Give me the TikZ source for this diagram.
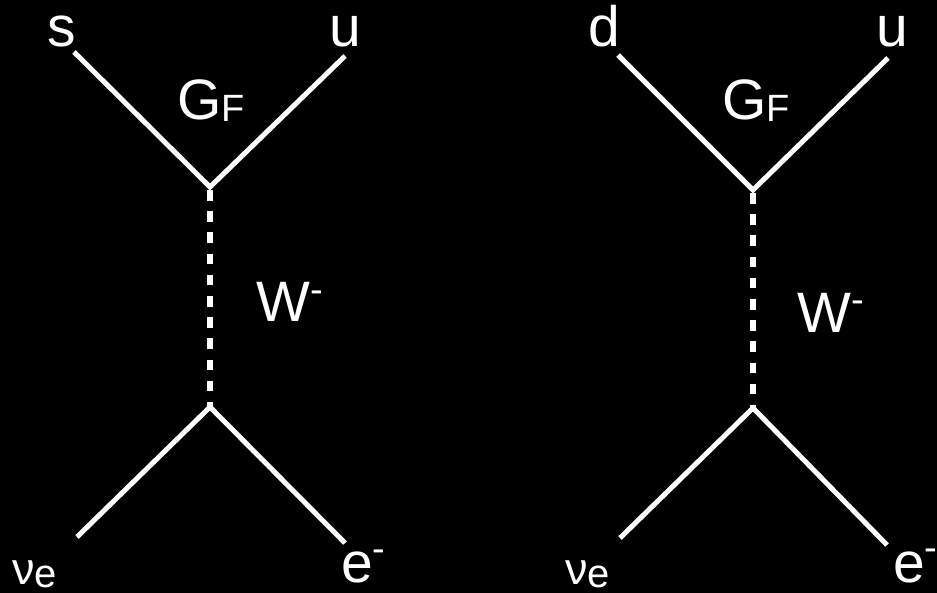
\documentclass[tikz,border=0pt]{standalone}
\usepackage{fontspec}
\setmainfont{Liberation Sans}
\begin{document}
\begin{tikzpicture}[x=1pt,y=-1pt,
  lbl/.style={text=white,inner sep=0pt,anchor=base west,font=\fontsize{57}{60}\selectfont},
  fermion/.style={draw=white,line width=5pt},
  boson/.style={draw=white,line width=5.5pt,dash pattern=on 10.7pt off 10.5pt,dash phase=-3pt}]
\fill[black] (0,0) rectangle (937,593);
\useasboundingbox (0,0) rectangle (937,593);
\newcommand{\supm}[1]{\raisebox{#1pt}{\fontsize{38}{40}\selectfont -}}
\newcommand{\nue}{\smash{\fontsize{45}{46}\selectfont ν\raisebox{-3pt}{\fontsize{40}{42}\selectfont e}}}
% ---- left diagram ----
\coordinate (La) at (74,52);
\coordinate (Lb) at (345,56);
\coordinate (Lv1) at (210,187);
\coordinate (Lv2) at (210,407);
\coordinate (Lc) at (77,537);
\coordinate (Ld) at (345,543);
\draw[fermion] (La) -- (Lv1) -- (Lb);
\draw[fermion] (Lc) -- (Lv2) -- (Ld);
\draw[boson] (Lv1) -- (Lv2);
\node[lbl] (Ls) at (47,47) {s};
\node[lbl] (Lu) at (329,47) {u};
\node[lbl] (LG) at (177,120) {G\raisebox{-2pt}{\fontsize{38}{40}\selectfont F}};
\node[lbl] (LW) at (256,322) {W\supm{19}};
\node[lbl] (Le) at (341,582) {e\supm{21}};
\node[lbl] (Lnu) at (12,584) {\nue};
% ---- right diagram ----
\coordinate (Ra) at (618,55);
\coordinate (Rb) at (888,58);
\coordinate (Rv1) at (753,190);
\coordinate (Rv2) at (753,408);
\coordinate (Rc) at (620,538);
\coordinate (Rd) at (887,545);
\draw[fermion] (Ra) -- (Rv1) -- (Rb);
\draw[fermion] (Rc) -- (Rv2) -- (Rd);
\draw[boson] (Rv1) -- (Rv2);
\node[lbl] (Rdl) at (588,47) {d};
\node[lbl] (Ru) at (876,47) {u};
\node[lbl] (RG) at (722,120) {G\raisebox{-2pt}{\fontsize{38}{40}\selectfont F}};
\node[lbl] (RW) at (797,333) {W\supm{20}};
\node[lbl] (Re) at (893,582) {e\supm{22}};
\node[lbl] (Rnu) at (565,584) {\nue};
\end{tikzpicture}
\end{document}
